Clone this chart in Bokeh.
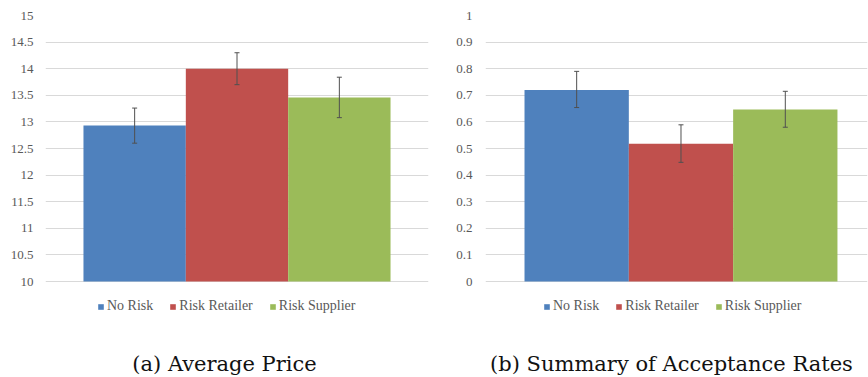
from bokeh.plotting import figure
from bokeh.models import (ColumnDataSource, Range1d, FixedTicker, Whisker, TeeHead,
                          Legend, LegendItem, Label)
from bokeh.layouts import row
from bokeh.embed import file_html
from bokeh.resources import INLINE

# Treatment groups and their bar colours
groups = ["No Risk", "Risk Retailer", "Risk Supplier"]
colors = ["#4F81BD", "#C0504D", "#9BBB59"]

# (a) Average price with error-bar bounds
price_mean = [12.93, 14.00, 13.46]
price_upper = [13.26, 14.30, 13.84]
price_lower = [12.60, 13.70, 13.08]
price_ticks = [10, 10.5, 11, 11.5, 12, 12.5, 13, 13.5, 14, 14.5, 15]
price_tick_labels = ["10", "10.5", "11", "11.5", "12", "12.5", "13", "13.5", "14", "14.5", "15"]

# (b) Acceptance rates with error-bar bounds
accept_mean = [0.72, 0.518, 0.647]
accept_upper = [0.79, 0.589, 0.715]
accept_lower = [0.654, 0.448, 0.58]
accept_ticks = [0, 0.1, 0.2, 0.3, 0.4, 0.5, 0.6, 0.7, 0.8, 0.9, 1]
accept_tick_labels = ["0", "0.1", "0.2", "0.3", "0.4", "0.5", "0.6", "0.7", "0.8", "0.9", "1"]

TICK_FONT = "Liberation Serif"
CAPTION_FONT = "DejaVu Serif"
TEXT_GREY = "#595959"

PANEL_W, PANEL_H = 434, 377
TOP_PAD = 15          # space above the top gridline
BAR_AREA = 266        # pixel height between first and last gridline


def make_panel(mean, upper, lower, ticks, tick_labels, x_range, border_left,
               border_right, standoff, caption, caption_x, legend_x):
    # the plotting frame runs down to the bottom edge so that legend and
    # caption can sit underneath the bars inside it
    span = ticks[-1] - ticks[0]
    below = PANEL_H - TOP_PAD - BAR_AREA
    y_start = ticks[0] - span * below / BAR_AREA

    p = figure(width=PANEL_W, height=PANEL_H, output_backend="svg", toolbar_location=None,
               x_range=Range1d(*x_range), y_range=Range1d(y_start, ticks[-1]),
               x_axis_location=None, min_border_left=border_left,
               min_border_right=border_right, min_border_top=TOP_PAD, min_border_bottom=0)
    p.outline_line_color = None
    p.xgrid.grid_line_color = None
    p.ygrid.grid_line_color = "#D9D9D9"
    p.ygrid.ticker = FixedTicker(ticks=ticks)

    yaxis = p.yaxis[0]
    yaxis.ticker = FixedTicker(ticks=ticks)
    yaxis.major_label_overrides = {t: s for t, s in zip(ticks, tick_labels)}
    yaxis.axis_line_color = None
    yaxis.major_tick_line_color = None
    yaxis.minor_tick_line_color = None
    yaxis.major_tick_out = 0
    yaxis.major_tick_in = 0
    yaxis.major_label_standoff = standoff
    yaxis.major_label_text_font = TICK_FONT
    yaxis.major_label_text_font_size = "13px"
    yaxis.major_label_text_color = TEXT_GREY

    src = ColumnDataSource(dict(x=list(range(len(groups))), top=mean, upper=upper,
                                lower=lower, color=colors, group=groups))
    bars = p.vbar(x="x", top="top", bottom=ticks[0], width=1.0, fill_color="color",
                  line_color=None, source=src)

    err_color = "#505050"
    whisker = Whisker(base="x", upper="upper", lower="lower", source=src,
                      line_color=err_color, line_width=1, level="overlay",
                      upper_head=TeeHead(size=5, line_color=err_color, line_width=1),
                      lower_head=TeeHead(size=5, line_color=err_color, line_width=1))
    p.add_layout(whisker)

    items = [LegendItem(label=g, renderers=[bars], index=i) for i, g in enumerate(groups)]
    legend = Legend(items=items, orientation="horizontal", location=(legend_x, 63),
                    border_line_color=None, background_fill_alpha=0,
                    glyph_width=7, glyph_height=7, label_standoff=3, spacing=16,
                    margin=0, padding=0, label_text_font=TICK_FONT,
                    label_text_font_size="14px", label_text_color=TEXT_GREY)
    p.add_layout(legend)

    p.add_layout(Label(x=caption_x, y=14, x_units="screen", y_units="screen",
                       text=caption, text_align="center", text_baseline="alphabetic",
                       text_font=CAPTION_FONT, text_font_size="21px", text_color="#111111"))
    return p


left = make_panel(price_mean, price_upper, price_lower, price_ticks, price_tick_labels,
                  (-0.871, 2.871), 45, 6, 12, "(a) Average Price", 179, 52)
right = make_panel(accept_mean, accept_upper, accept_lower, accept_ticks, accept_tick_labels,
                   (-0.874, 2.788), 51, 1, 13, "(b) Summary of Acceptance Rates", 186, 58)

layout = row(left, right)
open("out.html", "w").write(file_html(layout, INLINE))
